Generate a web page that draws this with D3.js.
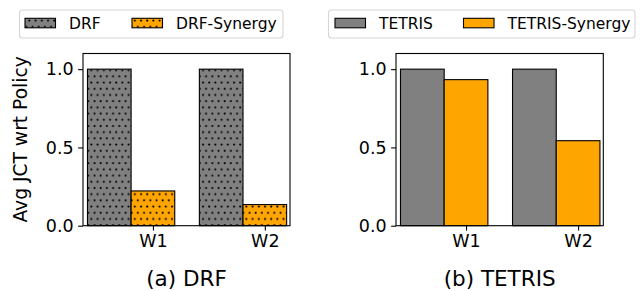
<!DOCTYPE html>
<html>
<head>
<meta charset="utf-8">
<script src="https://cdn.jsdelivr.net/npm/d3@7"></script>
<style>
  html, body { margin: 0; padding: 0; background: #fff; }
  svg text { font-family: "DejaVu Sans", sans-serif; fill: #000; }
</style>
</head>
<body>
<svg id="chart" width="644" height="291"></svg>
<script>
const categories = ["W1", "W2"];
const drf = [1.0, 1.0];
const drfSynergy = [0.222, 0.135];
const tetris = [1.0, 1.0];
const tetrisSynergy = [0.933, 0.543];
const yTicks = [0, 0.5, 1.0];

const svg = d3.select("#chart");
const plotTop = 53.5, plotBottom = 225.7;
const barW = 0.39;

// dotted hatch like matplotlib '..'
const defs = svg.append("defs");
function dots(id, fill) {
  const p = defs.append("pattern")
    .attr("id", id)
    .attr("patternUnits", "userSpaceOnUse")
    .attr("width", 6.2).attr("height", 12.4);
  p.append("rect").attr("width", 6.2).attr("height", 12.4).attr("fill", fill);
  [[1.5, 2], [4.6, 8.2]].forEach(([cx, cy]) => {
    p.append("circle").attr("cx", cx).attr("cy", cy).attr("r", 1.05).attr("fill", "#000");
  });
}
dots("dotGray", "#808080");
dots("dotOrange", "#FFA500");

const y = d3.scaleLinear().domain([0, 1.1]).range([plotBottom, plotTop]);

function panel(opt) {
  const { left, right, series, names, fills, title, ylabel, legend } = opt;
  const x = d3.scaleLinear().domain([-0.43, 1.42]).range([left, right]);
  const g = svg.append("g");

  series.forEach((vals, s) => {
    g.selectAll(null)
      .data(vals)
      .enter()
      .append("rect")
      .attr("x", (d, i) => x(i - barW + s * barW))
      .attr("y", (d) => y(d))
      .attr("width", x(barW) - x(0))
      .attr("height", (d) => y(0) - y(d))
      .attr("fill", fills[s])
      .attr("stroke", "#000")
      .attr("stroke-width", 1.1);
  });

  // axes
  const yAxis = d3.axisLeft(y).tickValues(yTicks).tickFormat(d3.format(".1f")).tickSize(4.9).tickPadding(4.5);
  const ga = g.append("g").attr("transform", `translate(${left},0)`).call(yAxis);
  const xAxis = d3.axisBottom(x).tickValues(categories.map((c, i) => i + barW / 2))
    .tickFormat((d, i) => categories[i]).tickSize(4.9).tickPadding(4);
  const gx = g.append("g").attr("transform", `translate(0,${plotBottom})`).call(xAxis);
  [ga, gx].forEach((a) => {
    a.select(".domain").remove();
    a.selectAll("line").attr("stroke", "#000").attr("stroke-width", 1.1);
    a.selectAll("text").attr("font-size", 17.5).attr("font-family", "DejaVu Sans").attr("fill", "#000");
  });
  g.append("rect")
    .attr("x", left).attr("y", plotTop)
    .attr("width", right - left).attr("height", plotBottom - plotTop)
    .attr("fill", "none").attr("stroke", "#000").attr("stroke-width", 1.1);

  g.append("text")
    .attr("x", (left + right) / 2).attr("y", 286)
    .attr("text-anchor", "middle").attr("font-size", 21.5)
    .text(title);

  if (ylabel) {
    g.append("text")
      .attr("transform", `translate(27,139.4) rotate(-90)`)
      .attr("text-anchor", "middle").attr("font-size", 18.7)
      .text(ylabel);
  }

  // legend
  const lg = g.append("g");
  lg.append("rect")
    .attr("x", legend.x0).attr("y", 10)
    .attr("width", legend.x1 - legend.x0).attr("height", 28)
    .attr("rx", 3).attr("fill", "#fff").attr("stroke", "#d6d6d6").attr("stroke-width", 1.1);
  names.forEach((n, s) => {
    lg.append("rect")
      .attr("x", legend.patch[s]).attr("y", 18.3)
      .attr("width", 30.5).attr("height", 9.5)
      .attr("fill", fills[s]).attr("stroke", "#000").attr("stroke-width", 1.1);
    lg.append("text")
      .attr("x", legend.patch[s] + 44).attr("y", 28.5)
      .attr("font-size", 15.5)
      .text(n);
  });
}

panel({
  left: 83, right: 290,
  series: [drf, drfSynergy],
  names: ["DRF", "DRF-Synergy"],
  fills: ["url(#dotGray)", "url(#dotOrange)"],
  title: "(a) DRF",
  ylabel: "Avg JCT wrt Policy",
  legend: { x0: 19.5, x1: 283, patch: [25, 132] }
});

panel({
  left: 396, right: 603.3,
  series: [tetris, tetrisSynergy],
  names: ["TETRIS", "TETRIS-Synergy"],
  fills: ["#808080", "#FFA500"],
  title: "(b) TETRIS",
  legend: { x0: 328.5, x1: 635, patch: [335, 463.5] }
});
</script>
</body>
</html>
